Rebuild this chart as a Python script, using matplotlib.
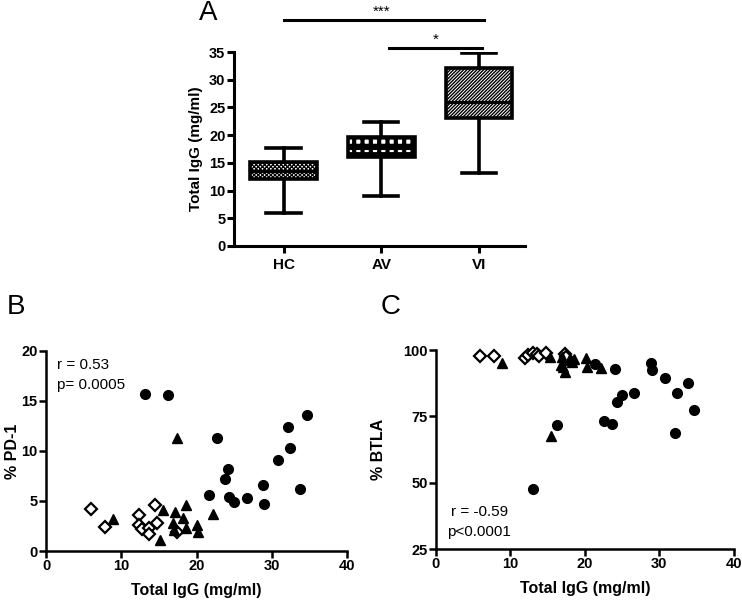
import matplotlib
matplotlib.use("Agg")
import matplotlib.pyplot as plt

plt.rcParams['font.family'] = ['Liberation Sans', 'DejaVu Sans']
plt.rcParams['hatch.linewidth'] = 1.0

# panel A: box plot stats of total IgG
groups = ['HC', 'AV', 'VI']
whislo = [6.0, 9.1, 13.2]
q1 = [12.0, 16.1, 23.1]
med = [13.6, 17.6, 25.9]
q3 = [15.1, 19.7, 32.2]
whishi = [17.6, 22.3, 34.8]
hatches = ['xxxxxxxx', '++', '//////////']
hatch_lw = [0.9, 3.0, 1.0]

# panel B: total IgG vs % PD-1
hc_igg_b = [6.0, 7.9, 12.4, 14.5, 12.3, 12.7, 13.7, 14.8, 13.7, 17.4]
hc_pd1 = [4.2, 2.4, 3.6, 4.6, 2.6, 2.2, 2.3, 2.8, 1.7, 1.9]
av_igg_b = [17.4, 8.9, 15.6, 17.1, 18.6, 22.2, 18.2, 16.9, 18.6, 17.0, 20.1, 20.2, 15.2]
av_pd1 = [11.3, 3.2, 4.1, 3.9, 4.6, 3.7, 3.3, 2.8, 2.3, 2.1, 2.6, 1.9, 1.1]
vi_igg_b = [13.1, 16.2, 22.7, 32.1, 34.7, 32.4, 30.8, 24.2, 23.8, 21.6, 24.3, 25.0,
            26.7, 28.9, 29.0, 33.7]
vi_pd1 = [15.7, 15.6, 11.3, 12.4, 13.6, 10.3, 9.1, 8.2, 7.2, 5.6, 5.4, 4.9,
          5.3, 6.6, 4.7, 6.2]

# panel C: total IgG vs % BTLA
hc_igg_c = [5.9, 7.8, 11.9, 12.4, 13.0, 13.5, 13.9, 14.8, 17.3, 17.5]
hc_btla = [97.7, 97.7, 96.9, 98.1, 99.0, 98.5, 97.7, 99.0, 98.5, 97.5]
av_igg_c = [8.9, 15.3, 16.8, 17.3, 17.9, 18.6, 20.2, 20.3, 22.2, 15.5, 16.9, 18.2, 17.0]
av_btla = [95.2, 97.3, 94.4, 91.8, 96.2, 96.5, 96.9, 93.7, 93.1, 67.6, 97.5, 95.5, 93.5]
vi_igg_c = [21.3, 24.1, 28.9, 29.0, 30.7, 33.8, 32.4, 34.6, 26.6, 25.0, 24.3, 22.6,
            23.7, 32.1, 16.2, 13.0]
vi_btla = [94.7, 92.8, 95.0, 92.5, 89.3, 87.7, 83.9, 77.4, 83.9, 83.0, 80.3, 73.2,
           72.0, 68.6, 71.7, 47.6]

fig = plt.figure(figsize=(7.42, 6.02), dpi=100)

bold = dict(fontweight='bold')


def style_axes(ax, lw, size):
    for s in ['top', 'right']:
        ax.spines[s].set_visible(False)
    for s in ['left', 'bottom']:
        ax.spines[s].set_linewidth(lw)
    ax.tick_params(direction='out', length=5, width=lw, labelsize=size, pad=1)
    for lab in ax.get_xticklabels() + ax.get_yticklabels():
        lab.set_fontweight('bold')


# ---- A ----
axA = fig.add_axes([0.315, 0.5914, 0.3925, 0.3222])
stats = []
for i, g in enumerate(groups):
    stats.append(dict(label=g, whislo=whislo[i], q1=q1[i], med=med[i],
                      q3=q3[i], whishi=whishi[i], fliers=[]))
bp = axA.bxp(stats, positions=range(len(groups)), widths=0.68, patch_artist=True,
             showfliers=False,
             boxprops=dict(linewidth=2.6, edgecolor='black', facecolor='white'),
             medianprops=dict(linewidth=2.2, color='black'),
             whiskerprops=dict(linewidth=2.6, color='black'),
             capprops=dict(linewidth=2.6, color='black'), capwidths=0.35)
for box, h, hl in zip(bp['boxes'], hatches, hatch_lw):
    box.set_hatch(h)
    try:
        box.set_hatch_linewidth(hl)
    except AttributeError:
        pass
axA.set_xlim(-0.51, 2.47)
axA.set_ylim(0, 35)
axA.set_yticks(range(0, 36, 5))
axA.set_ylabel('Total IgG (mg/ml)', fontsize=11, labelpad=4, **bold)
style_axes(axA, 2.2, 10.5)
axA.tick_params(axis='x', labelsize=11, pad=4)
axA.plot([0, 2.05], [40.8, 40.8], color='black', lw=2.2, clip_on=False)
axA.text(1.0, 42.3, '***', ha='center', va='center', fontsize=11)
axA.plot([1.08, 2.03], [35.7, 35.7], color='black', lw=2.2, clip_on=False)
axA.text(1.56, 37.2, '*', ha='center', va='center', fontsize=11)
fig.text(0.28, 0.978, 'A', fontsize=20, ha='center', va='center')


def scatter_panel(ax, hx, hy, ax_, ay, vx, vy):
    ax.plot(hx, hy, linestyle='none', marker='D', ms=6, mfc='white', mec='black', mew=1.6,
            clip_on=False)
    ax.plot(ax_, ay, linestyle='none', marker='^', ms=7.5, color='black', clip_on=False)
    ax.plot(vx, vy, linestyle='none', marker='o', ms=7, color='black', clip_on=False)
    ax.set_xlim(0, 40)
    ax.set_xticks([0, 10, 20, 30, 40])
    ax.set_xlabel('Total IgG (mg/ml)', fontsize=11.5, labelpad=7, **bold)


# ---- B ----
axB = fig.add_axes([0.062, 0.0847, 0.4057, 0.3323])
scatter_panel(axB, hc_igg_b, hc_pd1, av_igg_b, av_pd1, vi_igg_b, vi_pd1)
axB.set_ylim(0, 20)
axB.set_yticks([0, 5, 10, 15, 20])
style_axes(axB, 1.8, 10.5)
axB.set_ylabel('% PD-1', fontsize=11.5, labelpad=1, **bold)
axB.text(1.5, 18.6, 'r = 0.53', fontsize=11, va='center')
axB.text(1.5, 16.6, 'p= 0.0005', fontsize=11, va='center')
fig.text(0.022, 0.49, 'B', fontsize=20, ha='center', va='center')

# ---- C ----
axC = fig.add_axes([0.5876, 0.088, 0.4014, 0.3306])
scatter_panel(axC, hc_igg_c, hc_btla, av_igg_c, av_btla, vi_igg_c, vi_btla)
axC.set_ylim(25, 100)
axC.set_yticks([25, 50, 75, 100])
style_axes(axC, 1.8, 10.5)
axC.set_ylabel('% BTLA', fontsize=11.5, labelpad=12, **bold)
axC.text(2.0, 39.0, 'r = -0.59', fontsize=11, va='center')
axC.text(1.5, 31.5, 'p<0.0001', fontsize=11, va='center')
fig.text(0.527, 0.49, 'C', fontsize=20, ha='center', va='center')

fig.savefig('out.png', dpi=100)
